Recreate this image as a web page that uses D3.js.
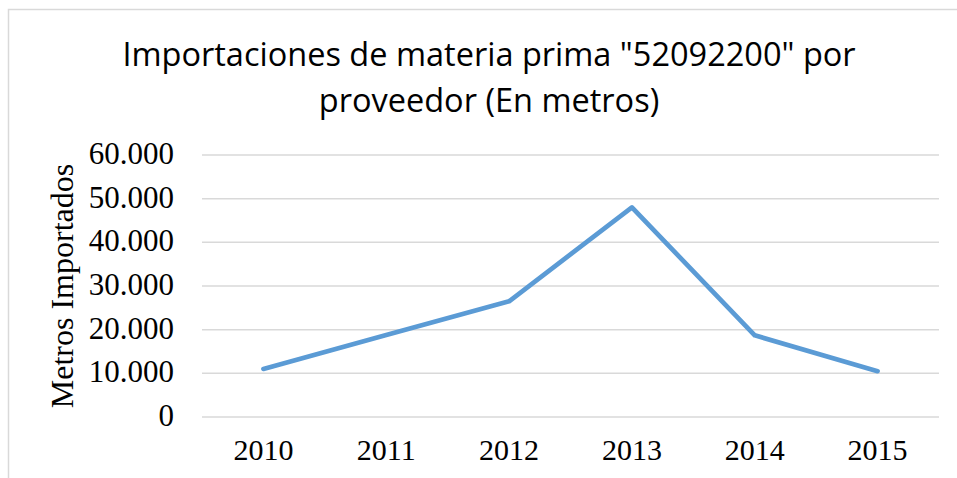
<!DOCTYPE html>
<html>
<head>
<meta charset="utf-8">
<script src="https://cdn.jsdelivr.net/npm/d3@7"></script>
<style>
  body { margin: 0; background: #fff; }
  svg { display: block; }
</style>
</head>
<body>
<div id="chart"></div>
<script>
var years = ["2010", "2011", "2012", "2013", "2014", "2015"]
var metros = [11000, 18800, 26500, 48000, 18700, 10500]
var yTicks = [0, 10000, 20000, 30000, 40000, 50000, 60000]
var titleLines = ['Importaciones de materia prima "52092200" por', 'proveedor (En metros)']
var yTitle = "Metros Importados"

var W = 957, H = 478
var margin = {top: 155, right: 18, bottom: 61, left: 202},
    width = W - margin.left - margin.right,
    height = H - margin.top - margin.bottom

var serif = "Liberation Serif, Times New Roman, serif"

var svg = d3.select("#chart").append("svg")
    .attr("width", W)
    .attr("height", H)

// frame (only top and left edges show in the crop)
svg.append("path")
  .attr("d", "M8.5," + H + " V9.5 H" + W)
  .attr("fill", "none")
  .attr("stroke", "#d9d9d9")
  .attr("stroke-width", 1.5)

var x = d3.scaleBand().domain(years).range([0, width])
var y = d3.scaleLinear().domain([0, 60000]).range([height, 0])

var fmt = d3.formatLocale({decimal: ",", thousands: ".", grouping: [3], currency: ["", ""]}).format(",")

var g = svg.append("g").attr("transform", "translate(" + margin.left + "," + margin.top + ")")

g.selectAll(".grid").data(yTicks).join("line")
  .attr("class", "grid")
  .attr("x1", 0).attr("x2", width)
  .attr("y1", d => y(d)).attr("y2", d => y(d))
  .attr("stroke", "#d9d9d9")
  .attr("stroke-width", 1.5)

g.selectAll(".ylab").data(yTicks).join("text")
  .attr("class", "ylab")
  .attr("x", -28)
  .attr("y", d => y(d) + 9)
  .attr("text-anchor", "end")
  .attr("font-family", serif)
  .attr("font-size", "31px")
  .attr("fill", "#000")
  .text(d => fmt(d))

g.selectAll(".xlab").data(years).join("text")
  .attr("class", "xlab")
  .attr("x", d => x(d) + x.bandwidth() / 2)
  .attr("y", height + 43)
  .attr("text-anchor", "middle")
  .attr("font-family", serif)
  .attr("font-size", "30px")
  .attr("fill", "#000")
  .text(d => d)

var line = d3.line()
  .x((d, i) => x(years[i]) + x.bandwidth() / 2)
  .y(d => y(d))

g.append("path")
  .datum(metros)
  .attr("d", line)
  .attr("fill", "none")
  .attr("stroke", "#5b9bd5")
  .attr("stroke-width", 4.7)
  .attr("stroke-linejoin", "round")
  .attr("stroke-linecap", "round")

svg.append("text")
  .attr("transform", "translate(73,286) rotate(-90)")
  .attr("text-anchor", "middle")
  .attr("font-family", serif)
  .attr("font-size", "32px")
  .attr("fill", "#000")
  .text(yTitle)

var titleWidths = [738, 337]
titleLines.forEach(function(t, i) {
  var el = svg.append("text")
    .attr("x", 489)
    .attr("y", 66 + i * 46)
    .attr("text-anchor", "middle")
    .attr("font-family", "Open Sans, sans-serif")
    .attr("font-size", "32.5px")
    .attr("fill", "#000")
    .text(t)
  if (el.node().getComputedTextLength() > titleWidths[i] + 4) {
    el.attr("textLength", titleWidths[i]).attr("lengthAdjust", "spacingAndGlyphs")
  }
})
</script>
</body>
</html>
